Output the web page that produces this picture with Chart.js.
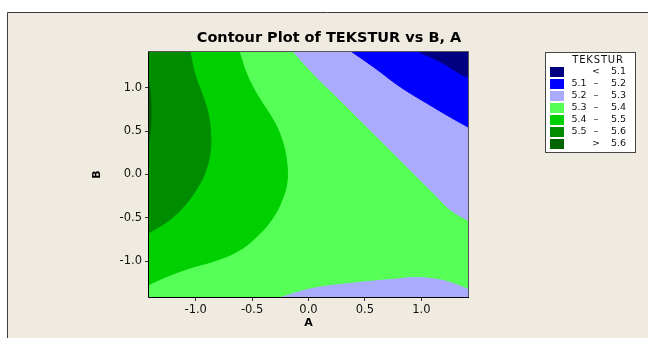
<!DOCTYPE html>
<html>
<head>
<meta charset="utf-8">
<script src="https://cdn.jsdelivr.net/npm/chart.js@4.4.1/dist/chart.umd.min.js"></script>
<style>
html, body { margin: 0; padding: 0; background: #fff; }
#wrap { width: 648px; height: 338px; }
</style>
</head>
<body>
<div id="wrap"><canvas id="contourCanvas" width="648" height="338"></canvas></div>
<script>
// coded factor range (axial points at +-1.414)
const axisMin = -1.414;
const axisMax = 1.414;
const tickValues = [-1.0, -0.5, 0.0, 0.5, 1.0];

// legend
const levelLabels = [['<', '5.1'], ['5.1', '5.2'], ['5.2', '5.3'], ['5.3', '5.4'], ['5.4', '5.5'], ['5.5', '5.6'], ['>', '5.6']];
const levelColors = ['#000080', '#0000FF', '#AAAAFF', '#55FF55', '#00D000', '#008C00', '#006400'];

// contour lines, points are [A, B]
const contour51 = [[0.979, 1.414], [1.17, 1.30], [1.35, 1.16], [1.414, 1.124]];
const contour52 = [[0.386, 1.414], [0.578, 1.24], [0.816, 1.01], [1.053, 0.82], [1.26, 0.66], [1.414, 0.548]];
const contour53Upper = [[-0.133, 1.414], [0.045, 1.16], [0.282, 0.856], [0.52, 0.548], [0.727, 0.28],
  [0.934, 0.01], [1.112, -0.22], [1.26, -0.41], [1.414, -0.53]];
const contour53Lower = [[-0.237, -1.414], [0.045, -1.313], [0.43, -1.249], [0.756, -1.21], [0.964, -1.19],
  [1.17, -1.218], [1.32, -1.275], [1.414, -1.325]];
const contour54 = [[-0.614, 1.414], [-0.548, 1.16], [-0.459, 0.93], [-0.356, 0.72], [-0.281, 0.55],
  [-0.222, 0.34], [-0.192, 0.127], [-0.192, -0.10], [-0.237, -0.30], [-0.311, -0.49], [-0.43, -0.68],
  [-0.607, -0.87], [-0.815, -0.99], [-1.052, -1.08], [-1.26, -1.18], [-1.414, -1.27]];
const contour55 = [[-1.05, 1.414], [-1.008, 1.16], [-0.934, 0.894], [-0.89, 0.70], [-0.868, 0.47],
  [-0.874, 0.24], [-0.92, 0.01], [-0.98, -0.14], [-1.08, -0.33], [-1.20, -0.49], [-1.32, -0.60], [-1.414, -0.67]];
const above56 = [[-1.414, 1.07], [-1.40, 0.90], [-1.395, 0.72], [-1.40, 0.55], [-1.414, 0.38]];
const floorLine = [[axisMin, axisMin], [axisMax, axisMin]];

// bands, bottom layer first. left bands run along B, the others along A
const bands = [
  { pts: floorLine, col: levelColors[3], to: axisMax, axis: 'x' },
  { pts: contour54, col: levelColors[4], to: axisMin, axis: 'y' },
  { pts: contour55, col: levelColors[5], to: axisMin, axis: 'y' },
  { pts: above56, col: levelColors[6], to: axisMin, axis: 'y' },
  { pts: contour53Upper, col: levelColors[2], to: axisMax, axis: 'x' },
  { pts: contour53Lower, col: levelColors[2], to: axisMin, axis: 'x' },
  { pts: contour52, col: levelColors[1], to: axisMax, axis: 'x' },
  { pts: contour51, col: levelColors[0], to: axisMax, axis: 'x' }
];

const datasets = bands.map((b, i) => ({
  data: b.pts.map(p => ({ x: p[0], y: p[1] })),
  indexAxis: b.axis,
  backgroundColor: b.col,
  borderColor: b.col,
  borderWidth: 1,
  pointRadius: 0,
  tension: 0.4,
  fill: { value: b.to },
  order: bands.length - i
}));

const fmt = v => Number(v).toFixed(1);
const font = 'DejaVu Sans';

const framePlugin = {
  id: 'frame',
  beforeDraw(chart) {
    const ctx = chart.ctx;
    ctx.save();
    ctx.fillStyle = '#fff';
    ctx.fillRect(0, 0, chart.width, chart.height);
    ctx.fillStyle = '#EFEBE1';
    ctx.fillRect(7, 12, chart.width - 7, chart.height - 12);
    ctx.strokeStyle = '#3c3c3c';
    ctx.lineWidth = 1;
    ctx.beginPath();
    ctx.moveTo(7.5, chart.height);
    ctx.lineTo(7.5, 12.5);
    ctx.lineTo(chart.width, 12.5);
    ctx.stroke();
    ctx.restore();
  },
  afterDatasetsDraw(chart) {
    const a = chart.chartArea;
    const ctx = chart.ctx;
    const l = Math.round(a.left) - 0.5, r = Math.round(a.right) + 0.5;
    const t = Math.round(a.top) - 0.5, btm = Math.round(a.bottom) + 0.5;
    ctx.save();
    ctx.lineWidth = 1;
    // top and right edges are a softer grey in the original
    ctx.strokeStyle = '#555';
    ctx.beginPath();
    ctx.moveTo(l, t);
    ctx.lineTo(r, t);
    ctx.lineTo(r, btm);
    ctx.stroke();
    ctx.strokeStyle = '#000';
    ctx.beginPath();
    ctx.moveTo(l, t);
    ctx.lineTo(l, btm);
    ctx.lineTo(r, btm);
    ctx.stroke();
    ctx.restore();
  },
  afterDraw(chart) {
    const ctx = chart.ctx;
    ctx.save();
    // title
    ctx.fillStyle = '#000';
    ctx.font = 'bold 14.5px "' + font + '"';
    ctx.textAlign = 'center';
    ctx.textBaseline = 'middle';
    ctx.fillText('Contour Plot of TEKSTUR vs B, A', 329, 38);

    // legend box
    ctx.fillStyle = '#fff';
    ctx.fillRect(545, 52, 91, 100);
    ctx.strokeStyle = '#444';
    ctx.strokeRect(545.5, 52.5, 90, 100);
    ctx.fillStyle = '#111';
    ctx.font = '10px "' + font + '"';
    if ('letterSpacing' in ctx) ctx.letterSpacing = '0.8px';
    ctx.fillText('TEKSTUR', 598, 60);
    if ('letterSpacing' in ctx) ctx.letterSpacing = '0px';
    ctx.font = '9.5px "' + font + '"';
    levelLabels.forEach((lab, i) => {
      const yc = 71.7 + 12.05 * i;
      ctx.fillStyle = levelColors[i];
      ctx.fillRect(550, Math.round(yc - 5), 14, 10);
      ctx.fillStyle = '#111';
      if (lab[0] === '<' || lab[0] === '>') {
        ctx.textAlign = 'center';
        ctx.fillText(lab[0], 596, yc);
      } else {
        ctx.textAlign = 'left';
        ctx.fillText(lab[0], 571.5, yc);
        ctx.textAlign = 'center';
        ctx.fillText('\u2013', 596, yc);
      }
      ctx.textAlign = 'left';
      ctx.fillText(lab[1], 611, yc);
    });
    ctx.restore();
  }
};

const ctx = document.getElementById('contourCanvas');
new Chart(ctx, {
  type: 'line',
  data: { datasets: datasets },
  plugins: [framePlugin],
  options: {
    responsive: false,
    animation: false,
    events: [],
    layout: { padding: { left: 0, top: 52, right: 180, bottom: 0 } },
    plugins: {
      legend: { display: false },
      tooltip: { enabled: false },
      title: { display: false }
    },
    scales: {
      x: {
        type: 'linear',
        min: axisMin,
        max: axisMax,
        afterBuildTicks: s => { s.ticks = tickValues.map(v => ({ value: v })); },
        afterFit: s => { s.height = 41; },
        ticks: { callback: v => fmt(v), font: { family: font, size: 11.5 }, color: '#111', padding: 2, maxRotation: 0, autoSkip: false },
        grid: { drawOnChartArea: false, drawTicks: true, tickLength: 4, color: '#333' },
        border: { display: true, color: '#000' },
        title: { display: true, text: 'A', color: '#000', font: { family: font, size: 11, weight: 'bold' }, padding: { top: 0, bottom: 8 } }
      },
      y: {
        type: 'linear',
        min: axisMin,
        max: axisMax,
        afterBuildTicks: s => { s.ticks = tickValues.map(v => ({ value: v })); },
        afterFit: s => { s.width = 149; },
        ticks: { callback: v => fmt(v), font: { family: font, size: 11.5 }, color: '#111', padding: 3, autoSkip: false },
        grid: { drawOnChartArea: false, drawTicks: true, tickLength: 4, color: '#333' },
        border: { display: true, color: '#000' },
        title: { display: true, text: 'B', color: '#000', font: { family: font, size: 11, weight: 'bold' }, padding: { top: 91, bottom: 0 } }
      }
    }
  }
});
</script>
</body>
</html>
